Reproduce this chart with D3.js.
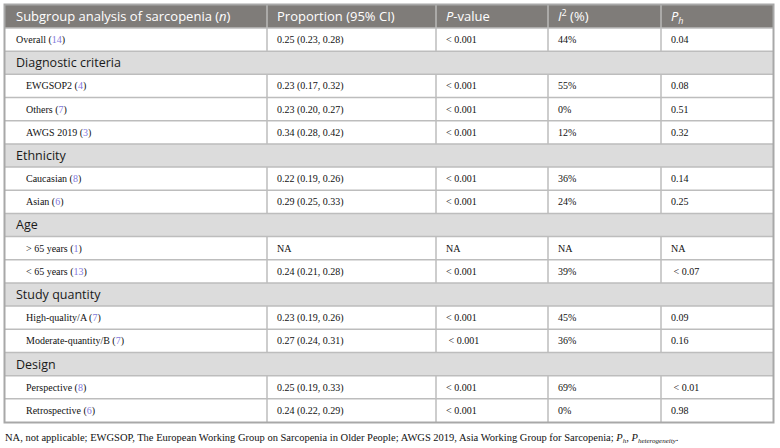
<!DOCTYPE html>
<html>
<head>
<meta charset="utf-8">
<script src="https://cdn.jsdelivr.net/npm/d3@7"></script>
<style>
  body { margin: 0; background: #fff; }
  svg { display: block; }
</style>
</head>
<body>
<svg id="chart"></svg>
<script>
// table content, row by row (section rows have no values)
var rowLabels = ["Overall", "Diagnostic criteria", "EWGSOP2", "Others", "AWGS 2019",
  "Ethnicity", "Caucasian", "Asian", "Age", "> 65 years", "< 65 years",
  "Study quantity", "High-quality/A", "Moderate-quantity/B", "Design", "Perspective", "Retrospective"]
var rowKind = ["top", "section", "sub", "sub", "sub", "section", "sub", "sub", "section", "sub", "sub",
  "section", "sub", "sub", "section", "sub", "sub"]
var studyCounts = ["14", "", "4", "7", "3", "", "8", "6", "", "1", "13", "", "7", "7", "", "8", "6"]
var proportions = ["0.25 (0.23, 0.28)", "", "0.23 (0.17, 0.32)", "0.23 (0.20, 0.27)", "0.34 (0.28, 0.42)",
  "", "0.22 (0.19, 0.26)", "0.29 (0.25, 0.33)", "", "NA", "0.24 (0.21, 0.28)",
  "", "0.23 (0.19, 0.26)", "0.27 (0.24, 0.31)", "", "0.25 (0.19, 0.33)", "0.24 (0.22, 0.29)"]
var pValues = ["< 0.001", "", "< 0.001", "< 0.001", "< 0.001", "", "< 0.001", "< 0.001", "",
  "NA", "< 0.001", "", "< 0.001", "\u00a0< 0.001", "", "< 0.001", "< 0.001"]
var i2Values = ["44%", "", "55%", "0%", "12%", "", "36%", "24%", "", "NA", "39%", "",
  "45%", "36%", "", "69%", "0%"]
var phValues = ["0.04", "", "0.08", "0.51", "0.32", "", "0.14", "0.25", "", "NA", "\u00a0< 0.07", "",
  "0.09", "0.16", "", "\u00a0< 0.01", "0.98"]

var W = 780, H = 448
var colEdges = [5, 267, 436, 548, 661, 773]
var headTop = 5, headBottom = 28, tableBottom = 422
var sans = "'Open Sans', 'Noto Sans', sans-serif"
var serif = "'Liberation Serif', 'DejaVu Serif', serif"
var linkColor = "#8178dc"
var ink = "#111"

var svg = d3.select("#chart").attr("width", W).attr("height", H)

var y = d3.scaleBand().domain(d3.range(rowLabels.length)).range([headBottom, tableBottom])

// header
svg.append("rect").attr("x", colEdges[0]).attr("y", headTop)
  .attr("width", colEdges[5] - colEdges[0]).attr("height", headBottom - headTop)
  .attr("fill", "#7f7c79")

var head = svg.append("g").attr("font-family", sans).attr("font-size", 13).attr("fill", "#fff")
var hy = (headTop + headBottom) / 2 + 4.5
var h0 = head.append("text").attr("x", colEdges[0] + 11).attr("y", hy)
h0.append("tspan").text("Subgroup analysis of sarcopenia (")
h0.append("tspan").attr("font-style", "italic").text("n")
h0.append("tspan").text(")")
head.append("text").attr("x", colEdges[1] + 10).attr("y", hy).text("Proportion (95% CI)")
var h2 = head.append("text").attr("x", colEdges[2] + 10).attr("y", hy)
h2.append("tspan").attr("font-style", "italic").text("P")
h2.append("tspan").text("-value")
var h3 = head.append("text").attr("x", colEdges[3] + 10).attr("y", hy)
h3.append("tspan").attr("font-style", "italic").text("I")
h3.append("tspan").attr("font-size", 9).attr("dy", -5).text("2")
h3.append("tspan").attr("dy", 5).text(" (%)")
var h4 = head.append("text").attr("x", colEdges[4] + 10).attr("y", hy)
h4.append("tspan").attr("font-style", "italic").text("P")
h4.append("tspan").attr("font-style", "italic").attr("font-size", 9).attr("dy", 3).text("h")

// rows
var rows = svg.append("g").selectAll("g").data(d3.range(rowLabels.length)).join("g")
  .attr("transform", function(i) { return "translate(0," + y(i) + ")" })

rows.append("rect").attr("x", colEdges[0]).attr("width", colEdges[5] - colEdges[0])
  .attr("height", y.bandwidth())
  .attr("fill", function(i) { return rowKind[i] == "section" ? "#dcdcdc" : "#fff" })

// section titles
rows.filter(function(i) { return rowKind[i] == "section" })
  .append("text").attr("x", colEdges[0] + 11).attr("y", y.bandwidth() / 2 + 4.5)
  .attr("font-family", sans).attr("font-size", 12.5).attr("fill", "#1a1a1a")
  .text(function(i) { return rowLabels[i] })

var dataRows = rows.filter(function(i) { return rowKind[i] != "section" })
var ty = y.bandwidth() / 2 + 3.5

var lab = dataRows.append("text")
  .attr("x", function(i) { return colEdges[0] + (rowKind[i] == "sub" ? 21 : 11) })
  .attr("y", ty).attr("font-family", serif).attr("font-size", 10).attr("fill", ink)
lab.append("tspan").text(function(i) { return rowLabels[i] + " (" })
lab.append("tspan").attr("fill", linkColor).text(function(i) { return studyCounts[i] })
lab.append("tspan").text(")")

var valueCols = [proportions, pValues, i2Values, phValues]
valueCols.forEach(function(col, c) {
  dataRows.append("text").attr("x", colEdges[c + 1] + 10).attr("y", ty)
    .attr("font-family", serif).attr("font-size", 10).attr("fill", ink)
    .text(function(i) { return col[i] })
})

// grid lines
var grid = svg.append("g").attr("stroke", "#bdbdbd").attr("fill", "none")
grid.selectAll("line.h").data(d3.range(1, rowLabels.length)).join("line")
  .attr("x1", colEdges[0]).attr("x2", colEdges[5])
  .attr("y1", function(i) { return y(i) }).attr("y2", function(i) { return y(i) })
  .attr("stroke-width", 1.5)
grid.append("line").attr("x1", colEdges[0]).attr("x2", colEdges[5])
  .attr("y1", headBottom).attr("y2", headBottom).attr("stroke-width", 1.5)
// column separators only in data rows
colEdges.slice(1, 5).forEach(function(cx) {
  dataRows.append("line").attr("x1", cx).attr("x2", cx).attr("y1", 0).attr("y2", y.bandwidth())
    .attr("stroke", "#bdbdbd").attr("stroke-width", 1.5)
  head.append("line").attr("x1", cx).attr("x2", cx).attr("y1", headTop).attr("y2", headBottom)
    .attr("stroke", "#d8d8d8").attr("stroke-width", 1)
})
grid.append("rect").attr("x", colEdges[0] - 0.5).attr("y", headTop - 0.5)
  .attr("width", colEdges[5] - colEdges[0] + 1).attr("height", tableBottom - headTop + 1)
  .attr("stroke", "#a8a8a8").attr("stroke-width", 2)

// footnote
var foot = svg.append("text").attr("x", colEdges[0]).attr("y", 441)
  .attr("font-family", serif).attr("font-size", 10.5).attr("fill", ink)
foot.append("tspan").text("NA, not applicable; EWGSOP, The European Working Group on Sarcopenia in Older People; AWGS 2019, Asia Working Group for Sarcopenia; ")
foot.append("tspan").attr("font-style", "italic").text("P")
foot.append("tspan").attr("font-style", "italic").attr("font-size", 7).attr("dy", 2).text("h")
foot.append("tspan").attr("dy", -2).text(", ")
foot.append("tspan").attr("font-style", "italic").text("P")
foot.append("tspan").attr("font-style", "italic").attr("font-size", 7).attr("dy", 2).text("heterogeneity")
foot.append("tspan").attr("dy", -2).text(".")
</script>
</body>
</html>
